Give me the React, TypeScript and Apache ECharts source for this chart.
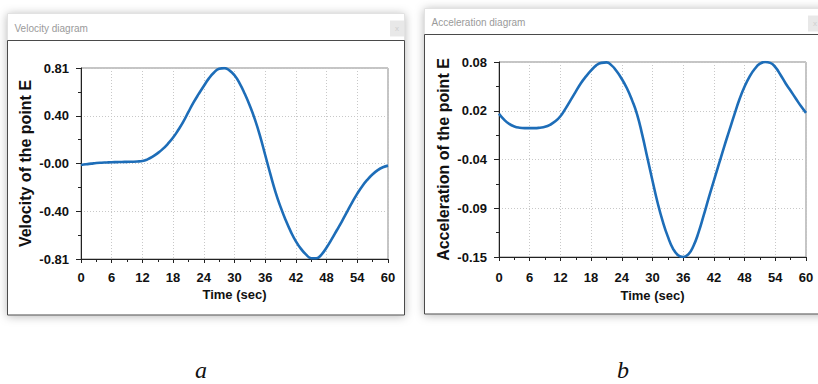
import React, { useEffect, useRef } from "react";
import * as echarts from "echarts";

const times = [
  0, 1, 2, 3, 4, 5, 6, 7, 8, 9, 10, 11, 12, 13, 14, 15, 16, 17, 18, 19, 20,
  21, 22, 23, 24, 25, 26, 27, 28, 29, 30, 31, 32, 33, 34, 35, 36, 37, 38, 39, 40,
  41, 42, 43, 44, 45, 46, 47, 48, 49, 50, 51, 52, 53, 54, 55, 56, 57, 58, 59, 60,
];

const velocity = [
  -0.012, -0.006, -0.001, 0.004, 0.007, 0.009, 0.011, 0.012, 0.013, 0.014, 0.015,
  0.017, 0.021, 0.035, 0.058, 0.088, 0.124, 0.168, 0.22, 0.284, 0.355,
  0.438, 0.518, 0.59, 0.658, 0.722, 0.772, 0.803, 0.809, 0.79, 0.748,
  0.68, 0.592, 0.49, 0.372, 0.232, 0.072, -0.088, -0.24, -0.368, -0.48,
  -0.578, -0.66, -0.724, -0.773, -0.803, -0.804, -0.772, -0.712, -0.642, -0.566,
  -0.49, -0.41, -0.33, -0.256, -0.19, -0.136, -0.091, -0.056, -0.032, -0.018,
];

const acceleration = [
  0.019, 0.012, 0.007, 0.004, 0.0025, 0.002, 0.002, 0.002, 0.0025, 0.0035, 0.006,
  0.01, 0.016, 0.025, 0.035, 0.045, 0.055, 0.063, 0.07, 0.076, 0.079,
  0.0795, 0.076, 0.069, 0.06, 0.049, 0.035, 0.018, -0.006, -0.033, -0.06,
  -0.086, -0.108, -0.126, -0.14, -0.148, -0.15, -0.147, -0.137, -0.121, -0.101,
  -0.08, -0.06, -0.04, -0.02, -0.001, 0.018, 0.036, 0.051, 0.063, 0.072,
  0.078, 0.08, 0.079, 0.074, 0.065, 0.055, 0.046, 0.037, 0.028, 0.02,
];

const velocityTickLabels = ["-0.81", "-0.40", "-0.00", "0.40", "0.81"];
const accelTickLabels = ["-0.15", "-0.09", "-0.04", "0.02", "0.08"];

const VEL_MIN = -0.81;
const VEL_MAX = 0.81;
const VEL_STEP = 0.405;
const ACC_MIN = -0.15;
const ACC_MAX = 0.08;
const ACC_STEP = 0.0575;

const FONT = "Arial, 'Liberation Sans', sans-serif";
const SERIF = "'Liberation Serif', 'Times New Roman', serif";
const LINE_COLOR = "#1d6db8";

function makeXAxis(gridIndex: number, labelMargin: number, nameGap: number) {
  return {
    type: "value",
    gridIndex,
    min: 0,
    max: 60,
    interval: 6,
    name: "Time (sec)",
    nameLocation: "middle",
    nameGap,
    nameTextStyle: { fontFamily: FONT, fontWeight: "bold", fontSize: 13, color: "#111" },
    z: 3,
    axisLine: { show: true, onZero: false, lineStyle: { color: "#222", width: 1 } },
    axisTick: { show: true, length: 4, lineStyle: { color: "#222" } },
    minorTick: { show: true, splitNumber: 2, length: 3, lineStyle: { color: "#222" } },
    axisLabel: {
      margin: labelMargin,
      fontFamily: FONT,
      fontWeight: "bold",
      fontSize: 13,
      color: "#111",
    },
    splitLine: { show: true, lineStyle: { color: "#c8c8c8", type: [1, 2], width: 1 } },
  };
}

function makeYAxis(
  gridIndex: number,
  min: number,
  max: number,
  step: number,
  labels: string[],
  name: string,
  nameGap: number
) {
  return {
    type: "value",
    gridIndex,
    min,
    max,
    interval: step,
    name,
    nameLocation: "middle",
    nameGap,
    nameTextStyle: { fontFamily: FONT, fontWeight: "bold", fontSize: 16, color: "#111" },
    z: 3,
    axisLine: { show: true, onZero: false, lineStyle: { color: "#222", width: 1 } },
    axisTick: { show: true, length: 5, lineStyle: { color: "#222" } },
    minorTick: { show: true, splitNumber: 2, length: 3, lineStyle: { color: "#222" } },
    axisLabel: {
      margin: 12,
      fontFamily: FONT,
      fontWeight: "bold",
      fontSize: 13,
      color: "#111",
      formatter: (v: number) => {
        const i = Math.round((v - min) / step);
        return labels[i] ?? "";
      },
    },
    splitLine: { show: true, lineStyle: { color: "#c8c8c8", type: [1, 2], width: 1 } },
  };
}

export default function App() {
  const ref = useRef<HTMLDivElement>(null);

  useEffect(() => {
    if (!ref.current) return;
    const chart = echarts.init(ref.current, undefined, { renderer: "svg" });

    const velData = times.map((t, i) => [t, velocity[i]]);
    const accData = times.map((t, i) => [t, acceleration[i]]);

    const windowFrame = (x: number, y: number, w: number, h: number, titleH: number, title: string, closeX: number) => [
      {
        type: "rect",
        z: -10,
        shape: { x, y, width: w, height: h },
        style: {
          fill: "#ffffff",
          stroke: "#e2e2e2",
          lineWidth: 1,
          shadowBlur: 10,
          shadowColor: "rgba(0,0,0,0.28)",
          shadowOffsetY: 1,
        },
      },
      {
        type: "rect",
        z: -9,
        shape: { x, y: y + titleH, width: w, height: h - titleH },
        style: { fill: "#ffffff", stroke: "#4a4a4a", lineWidth: 1 },
      },
      {
        type: "text",
        z: -8,
        x: x + 7,
        y: y + titleH / 2 + 1,
        style: {
          text: title,
          fontFamily: FONT,
          fontSize: 10,
          fill: "#9a9a9a",
          verticalAlign: "middle",
          align: "left",
        },
      },
      {
        type: "rect",
        z: -8,
        shape: { x: closeX, y: y + 7, width: 14, height: 16 },
        style: { fill: "#e8e8e8" },
      },
      {
        type: "text",
        z: -7,
        x: closeX + 7,
        y: y + 15,
        style: {
          text: "x",
          fontFamily: FONT,
          fontSize: 8,
          fill: "#cfcfcf",
          align: "center",
          verticalAlign: "middle",
        },
      },
    ];

    const caption = (text: string, x: number) => ({
      type: "text",
      z: -5,
      x,
      y: 370,
      style: {
        text,
        fontFamily: SERIF,
        fontStyle: "italic",
        fontSize: 24,
        fill: "#111",
        align: "center",
        verticalAlign: "middle",
      },
    });

    chart.setOption({
      animation: false,
      backgroundColor: "#ffffff",
      graphic: [
        ...windowFrame(7.5, 13.5, 397, 301.5, 27, "Velocity diagram", 390),
        ...windowFrame(424.5, 8.5, 410, 305.5, 26, "Acceleration diagram", 808),
        caption("a", 201),
        caption("b", 623),
      ],
      grid: [
        {
          left: 81,
          top: 68,
          width: 307,
          height: 191,
          show: true,
          borderColor: "#8a8a8a",
          borderWidth: 1,
          backgroundColor: "transparent",
        },
        {
          left: 499,
          top: 62,
          width: 307,
          height: 195,
          show: true,
          borderColor: "#8a8a8a",
          borderWidth: 1,
          backgroundColor: "transparent",
        },
      ],
      xAxis: [makeXAxis(0, 12, 29), makeXAxis(1, 14, 31)],
      yAxis: [
        makeYAxis(0, VEL_MIN, VEL_MAX, VEL_STEP, velocityTickLabels, "Velocity of the point E", 48),
        makeYAxis(1, ACC_MIN, ACC_MAX, ACC_STEP, accelTickLabels, "Acceleration of the point E", 48),
      ],
      series: [
        {
          type: "line",
          xAxisIndex: 0,
          yAxisIndex: 0,
          data: velData,
          smooth: true,
          showSymbol: false,
          z: 5,
          lineStyle: { color: LINE_COLOR, width: 2.6 },
          itemStyle: { color: LINE_COLOR },
        },
        {
          type: "line",
          xAxisIndex: 1,
          yAxisIndex: 1,
          data: accData,
          smooth: true,
          showSymbol: false,
          z: 5,
          lineStyle: { color: LINE_COLOR, width: 2.6 },
          itemStyle: { color: LINE_COLOR },
        },
      ],
    });

    return () => {
      chart.dispose();
    };
  }, []);

  return (
    <div
      ref={ref}
      style={{ position: "fixed", left: 0, top: 0, width: 818, height: 384 }}
    />
  );
}
